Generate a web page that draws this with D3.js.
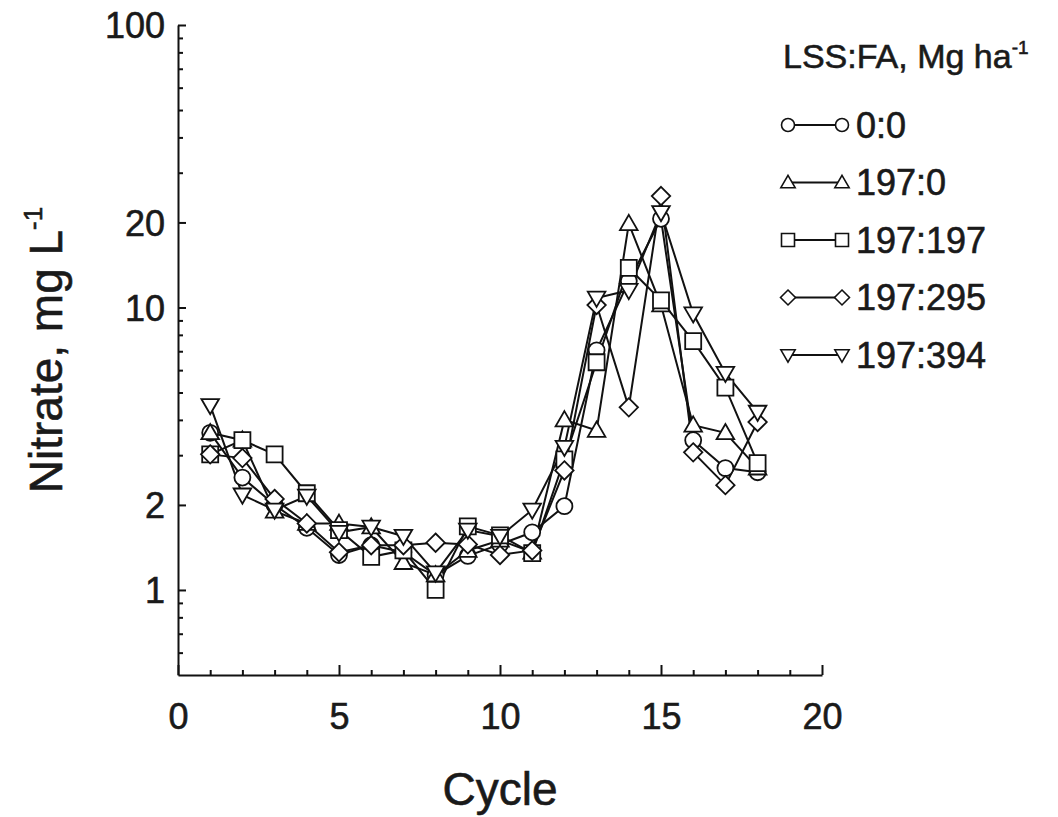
<!DOCTYPE html>
<html>
<head>
<meta charset="utf-8">
<script src="https://cdn.jsdelivr.net/npm/d3@7"></script>
<style>
  body { margin: 0; background: #fff; }
  svg { display: block; }
  text { font-family: Arial, "Liberation Sans", Helvetica, sans-serif; fill: #1a1a1a; stroke: #1a1a1a; stroke-width: 0.6px; }
</style>
</head>
<body>
<div id="chart"></div>
<script>
var cycles = [1, 2, 3, 4, 5, 6, 7, 8, 9, 10, 11, 12, 13, 14, 15, 16, 17, 18];

var seriesNames = ["0:0", "197:0", "197:197", "197:295", "197:394"];
var seriesShapes = ["circle", "triangle", "square", "diamond", "triangleDown"];

var nitrate00 = [3.6, 2.5, 2.0, 1.66, 1.33, 1.44, 1.36, 1.13, 1.32, 1.45, 1.6, 1.98, 7.05, 12.4, 20.6, 3.39, 2.7, 2.61];
var nitrate1970 = [3.6, 3.39, 1.9, 1.72, 1.72, 1.67, 1.25, 1.13, 1.38, 1.5, 1.36, 4.0, 3.67, 19.8, 10.2, 3.83, 3.6, 2.7];
var nitrate197197 = [3.02, 3.39, 3.02, 2.2, 1.63, 1.31, 1.38, 1.0, 1.68, 1.56, 1.35, 2.9, 6.4, 13.8, 10.6, 7.6, 5.2, 2.81];
var nitrate197295 = [3.02, 2.93, 2.1, 1.72, 1.36, 1.44, 1.44, 1.47, 1.45, 1.33, 1.38, 2.65, 10.2, 4.43, 24.8, 3.07, 2.35, 3.93];
var nitrate197394 = [4.5, 2.17, 1.92, 2.15, 1.6, 1.67, 1.55, 1.15, 1.63, 1.55, 1.92, 3.2, 10.8, 11.5, 21.7, 9.5, 5.85, 4.26];

var allSeries = [nitrate00, nitrate1970, nitrate197197, nitrate197295, nitrate197394];

var yMajor = [1, 2, 10, 20, 100];
var yMinor = [0.6, 0.7, 0.8, 0.9, 3, 4, 5, 6, 7, 8, 9, 30, 40, 50, 60, 70, 80, 90];
var xMajor = [0, 5, 10, 15, 20];
var xMinor = d3.range(1, 20).filter(function (d) { return d % 5 != 0; });

var width = 1058, height = 817;
var plotLeft = 178, plotRight = 822, plotTop = 25, plotBottom = 675;

var svg = d3.select("#chart").append("svg")
  .attr("width", width)
  .attr("height", height);

var x = d3.scaleLinear().domain([0, 20]).range([plotLeft, plotRight]);
var y = d3.scaleLog().domain([0.5, 100]).range([plotBottom, plotTop]);

// y axis, ticks point into the plot
var yAxis = svg.append("g")
  .attr("transform", "translate(" + plotLeft + ",0)")
  .call(d3.axisLeft(y).tickValues(yMajor).tickSize(-8).tickSizeOuter(0)
    .tickPadding(13).tickFormat(d3.format("d")));
svg.append("g")
  .attr("transform", "translate(" + plotLeft + ",0)")
  .call(d3.axisLeft(y).tickValues(yMinor).tickSize(-5).tickSizeOuter(0).tickFormat(""))
  .select(".domain").remove();

var xAxis = svg.append("g")
  .attr("transform", "translate(0," + plotBottom + ")")
  .call(d3.axisBottom(x).tickValues(xMajor).tickSize(-10).tickSizeOuter(0)
    .tickPadding(28).tickFormat(d3.format("d")));
svg.append("g")
  .attr("transform", "translate(0," + plotBottom + ")")
  .call(d3.axisBottom(x).tickValues(xMinor).tickSize(-5).tickSizeOuter(0).tickFormat(""))
  .select(".domain").remove();

svg.selectAll(".domain, .tick line").attr("stroke", "#111").attr("stroke-width", 2);
svg.selectAll(".tick text")
  .attr("font-size", 36)
  .attr("font-family", "Arial, 'Liberation Sans', sans-serif")
  .attr("fill", "#1a1a1a");
yAxis.selectAll(".tick text").attr("dy", "0.36em");

// axis titles
var yTitle = svg.append("text")
  .attr("transform", "translate(62,350) rotate(-90)")
  .attr("text-anchor", "middle")
  .attr("font-size", 46);
yTitle.append("tspan").text("Nitrate, mg L");
yTitle.append("tspan").attr("dy", -20).attr("font-size", 26).text("-1");

svg.append("text")
  .attr("x", (plotLeft + plotRight) / 2)
  .attr("y", 805)
  .attr("text-anchor", "middle")
  .attr("font-size", 46)
  .text("Cycle");

// marker outlines
function shapePath(shape, s) {
  var h = s / 2;
  if (shape == "circle") {
    return "M" + (-h) + ",0A" + h + "," + h + " 0 1,0 " + h + ",0A" + h + "," + h + " 0 1,0 " + (-h) + ",0Z";
  }
  if (shape == "square") {
    return "M" + (-h) + "," + (-h) + "H" + h + "V" + h + "H" + (-h) + "Z";
  }
  if (shape == "diamond") {
    return "M0," + (-h * 1.15) + "L" + (h * 1.15) + ",0L0," + (h * 1.15) + "L" + (-h * 1.15) + ",0Z";
  }
  if (shape == "triangle") {
    return "M0," + (-h * 1.1) + "L" + (h * 1.1) + "," + (h * 0.8) + "L" + (-h * 1.1) + "," + (h * 0.8) + "Z";
  }
  // triangleDown
  return "M0," + (h * 1.1) + "L" + (h * 1.1) + "," + (-h * 0.8) + "L" + (-h * 1.1) + "," + (-h * 0.8) + "Z";
}

var line = d3.line()
  .x(function (d) { return x(d[0]); })
  .y(function (d) { return y(d[1]); });

var lines = svg.append("g");
var points = svg.append("g");

allSeries.forEach(function (vals, k) {
  var pts = cycles.map(function (c, i) { return [c, vals[i]]; });
  lines.append("path")
    .attr("d", line(pts))
    .attr("fill", "none")
    .attr("stroke", "#111")
    .attr("stroke-width", 2);
});

allSeries.forEach(function (vals, k) {
  var pts = cycles.map(function (c, i) { return [c, vals[i]]; });
  points.selectAll(null)
    .data(pts)
    .enter().append("path")
    .attr("transform", function (d) { return "translate(" + x(d[0]) + "," + y(d[1]) + ")"; })
    .attr("d", shapePath(seriesShapes[k], 16))
    .attr("fill", "#fff")
    .attr("stroke", "#111")
    .attr("stroke-width", 1.8);
});

// legend
var legend = svg.append("g");
var lt = legend.append("text")
  .attr("x", 783)
  .attr("y", 68)
  .attr("font-size", 34);
lt.append("tspan").text("LSS:FA, Mg ha");
lt.append("tspan").attr("dy", -14).attr("font-size", 19).text("-1");

seriesNames.forEach(function (name, k) {
  var cy = 125 + k * 57.5;
  legend.append("line")
    .attr("x1", 788).attr("x2", 842)
    .attr("y1", cy).attr("y2", cy)
    .attr("stroke", "#111").attr("stroke-width", 2);
  [788, 842].forEach(function (mx) {
    legend.append("path")
      .attr("transform", "translate(" + mx + "," + cy + ")")
      .attr("d", shapePath(seriesShapes[k], 13))
      .attr("fill", "#fff")
      .attr("stroke", "#111")
      .attr("stroke-width", 1.6);
  });
  legend.append("text")
    .attr("x", 856)
    .attr("y", cy)
    .attr("dy", "0.36em")
    .attr("font-size", 36)
    .text(name);
});
</script>
</body>
</html>
